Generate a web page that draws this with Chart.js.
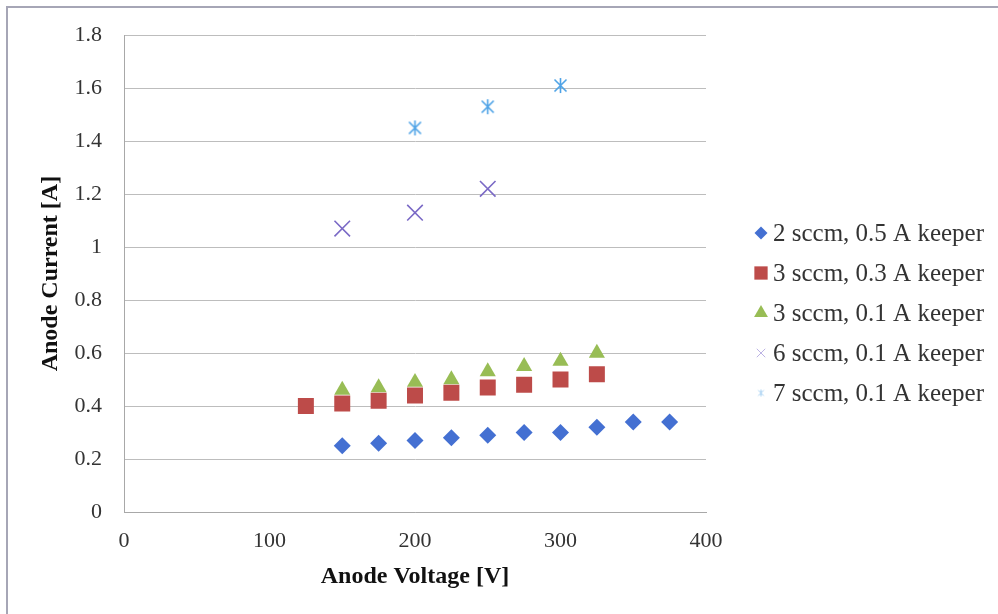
<!DOCTYPE html>
<html>
<head>
<meta charset="utf-8">
<script src="https://cdn.jsdelivr.net/npm/chart.js@4"></script>
<style>
  html, body { margin: 0; padding: 0; background: #fff; }
  #wrap { position: relative; width: 998px; height: 614px; overflow: hidden; }
  #frame { position: absolute; left: 6px; top: 6px; width: 1000px; height: 700px;
           border-top: 2px solid #a6a6b6; border-left: 2px solid #a6a6b6; }
  canvas { position: absolute; left: 0; top: 0; }
</style>
</head>
<body>
<div id="wrap">
  <canvas id="chartScatter" width="998" height="614"></canvas>
  <div id="frame"></div>
</div>
<script>
// anode current vs anode voltage, one pair of arrays per flow / keeper setting
var seriesNames = ['2 sccm, 0.5 A keeper', '3 sccm, 0.3 A keeper', '3 sccm, 0.1 A keeper',
                   '6 sccm, 0.1 A keeper', '7 sccm, 0.1 A keeper'];

var voltsA = [150, 175, 200, 225, 250, 275, 300, 325, 350, 375];
var ampsA  = [0.25, 0.26, 0.27, 0.28, 0.29, 0.30, 0.30, 0.32, 0.34, 0.34];

var voltsB = [125, 150, 175, 200, 225, 250, 275, 300, 325];
var ampsB  = [0.40, 0.41, 0.42, 0.44, 0.45, 0.47, 0.48, 0.50, 0.52];

var voltsC = [150, 175, 200, 225, 250, 275, 300, 325];
var ampsC  = [0.46, 0.47, 0.49, 0.50, 0.53, 0.55, 0.57, 0.60];

var voltsD = [150, 200, 250];
var ampsD  = [1.07, 1.13, 1.22];

var voltsE = [200, 250, 300];
var ampsE  = [1.45, 1.53, 1.61];

var xTicks = [0, 100, 200, 300, 400];
var yTicks = [0, 0.2, 0.4, 0.6, 0.8, 1, 1.2, 1.4, 1.6, 1.8];

var serif = '"Liberation Serif", "Times New Roman", serif';

function toPoints(xs, ys) {
    var pts = [];
    for (var i = 0; i < xs.length; i++) {
        pts.push({x: xs[i], y: ys[i]});
    }
    return pts;
}

// asterisk marker: vertical bar plus two diagonals
function makeStar(size, color, width) {
    var c = document.createElement('canvas');
    c.width = size;
    c.height = size;
    var g = c.getContext('2d');
    var m = size / 2, r = size / 2 - 1, d = r * 0.8;
    g.strokeStyle = color;
    g.lineWidth = width;
    g.beginPath();
    g.moveTo(m, m - r); g.lineTo(m, m + r);
    g.moveTo(m - d, m - d); g.lineTo(m + d, m + d);
    g.moveTo(m - d, m + d); g.lineTo(m + d, m - d);
    g.stroke();
    return c;
}

var starBig = makeStar(17, '#4da2e6', 1.6);
var starSmall = makeStar(9, '#a6d0f2', 1);

var datasets = [
    {label: seriesNames[0], data: toPoints(voltsA, ampsA), pointStyle: 'rectRot', pointRadius: 8.5,
     backgroundColor: '#4470d2', borderColor: '#4470d2', borderWidth: 0,
     keyStyle: 'rectRot', keyRadius: 6.5, keyColor: '#4470d2'},
    {label: seriesNames[1], data: toPoints(voltsB, ampsB), pointStyle: 'rect', pointRadius: 11.3,
     backgroundColor: '#bd4b49', borderColor: '#bd4b49', borderWidth: 0,
     keyStyle: 'rect', keyRadius: 9.4, keyColor: '#bd4b49'},
    {label: seriesNames[2], data: toPoints(voltsC, ampsC), pointStyle: 'triangle', pointRadius: 9.3,
     backgroundColor: '#98bd55', borderColor: '#98bd55', borderWidth: 0,
     keyStyle: 'triangle', keyRadius: 8, keyColor: '#98bd55'},
    {label: seriesNames[3], data: toPoints(voltsD, ampsD), pointStyle: 'crossRot', pointRadius: 11,
     backgroundColor: '#7b6ac6', borderColor: '#7b6ac6', borderWidth: 1.6,
     keyStyle: 'crossRot', keyRadius: 6, keyColor: '#bcb3e4'},
    {label: seriesNames[4], data: toPoints(voltsE, ampsE), pointStyle: starBig, pointRadius: 9,
     backgroundColor: '#4da2e6', borderColor: '#4da2e6', borderWidth: 1.6,
     keyStyle: starSmall, keyRadius: 5, keyColor: '#a6d0f2'}
];

// key on the right, drawn next to the plot
var keyPos = {markX: 761, textX: 773, top: 233, step: 40};

var sideKey = {
    id: 'sideKey',
    afterDraw: function(chart) {
        var ctx = chart.ctx;
        ctx.save();
        ctx.textBaseline = 'middle';
        ctx.textAlign = 'left';
        ctx.font = '25px ' + serif;
        chart.data.datasets.forEach(function(ds, i) {
            var y = keyPos.top + i * keyPos.step;
            ctx.fillStyle = ds.keyColor;
            ctx.strokeStyle = ds.keyColor;
            ctx.lineWidth = 1;
            Chart.helpers.drawPoint(ctx, {pointStyle: ds.keyStyle, radius: ds.keyRadius, rotation: 0,
                                          borderWidth: ds.borderWidth > 0 ? 1 : 0}, keyPos.markX, y);
            ctx.fillStyle = '#333';
            ctx.fillText(ds.label, keyPos.textX, y + 1);
        });
        ctx.restore();
    }
};

var chart = new Chart(document.getElementById('chartScatter'), {
    type: 'scatter',
    data: {datasets: datasets},
    plugins: [sideKey],
    options: {
        responsive: false,
        animation: false,
        layout: {padding: {left: 10, top: 32, right: 292, bottom: 10}},
        plugins: {
            tooltip: {enabled: false},
            legend: {display: false}
        },
        scales: {
            x: {
                type: 'linear',
                min: xTicks[0],
                max: xTicks[xTicks.length - 1],
                afterBuildTicks: function(s) { s.ticks = xTicks.map(function(v) { return {value: v}; }); },
                afterFit: function(s) { s.height = 92; },
                grid: {display: false},
                border: {display: true, color: '#a8a8a8', width: 1},
                ticks: {color: '#333', padding: 8, font: {family: serif, size: 22},
                        callback: function(v) { return String(v); }},
                title: {display: true, text: 'Anode Voltage [V]', color: '#111',
                        padding: {top: 0, bottom: 13}, font: {family: serif, size: 24, weight: 'bold'}}
            },
            y: {
                min: yTicks[0],
                max: yTicks[yTicks.length - 1],
                afterBuildTicks: function(s) { s.ticks = yTicks.map(function(v) { return {value: v}; }); },
                afterFit: function(s) { s.width = 114; },
                grid: {color: '#bdbdbd', lineWidth: 1, drawTicks: false},
                border: {display: true, color: '#a8a8a8', width: 1},
                ticks: {color: '#333', padding: 22, font: {family: serif, size: 22},
                        callback: function(v) { return String(v); }},
                title: {display: true, text: 'Anode Current [A]', color: '#111',
                        padding: {top: 26, bottom: 0}, font: {family: serif, size: 24, weight: 'bold'}}
            }
        }
    }
});
</script>
</body>
</html>
